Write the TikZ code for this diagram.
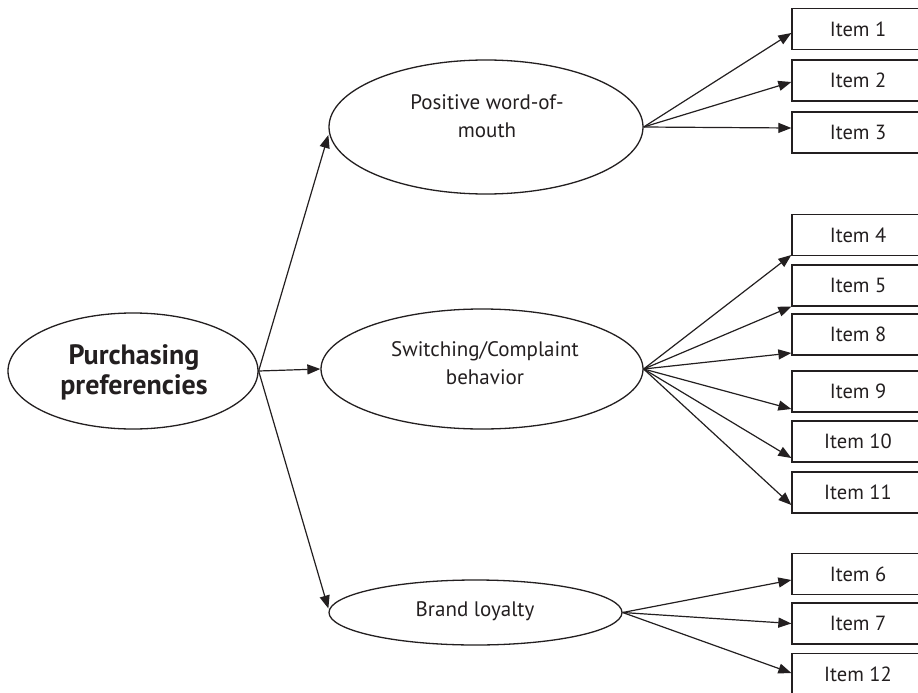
\documentclass[tikz,border=0pt]{standalone}
\usepackage{fontspec}
\setmainfont{PT Sans}
\usetikzlibrary{arrows.meta,shapes.geometric}
\definecolor{ink}{HTML}{231F20}
\begin{document}
\begin{tikzpicture}[x=1pt,y=-1pt,
  lat/.style={ellipse,draw=ink,line width=1.3pt,inner sep=0pt},
  lbl/.style={align=center,text=ink,inner sep=0pt,font=\fontsize{21}{27.5}\selectfont},
  itembox/.style={rectangle,draw=ink,line width=1.3pt,minimum width=132pt,minimum height=41pt,inner sep=0pt,text=ink,font=\fontsize{20.5}{24}\selectfont},
  link/.style={draw=ink,line width=1.2pt,-{Triangle[length=13pt,width=10pt]}}]
\useasboundingbox (0,0) rectangle (918,693);
\clip (0,0) rectangle (918,693);
\fill[white] (0,0) rectangle (918,693);

% latent ellipses
\node[lat,minimum width=250pt,minimum height=116pt] (pp) at (133,371) {};
\node[lbl,font=\bfseries\fontsize{28}{30}\selectfont] (ppT) at (134,372) {Purchasing\\preferencies};

\node[lat,minimum width=314pt,minimum height=134pt] (pos) at (486,127) {};
\node[lbl] (posT) at (487,116) {Positive word-of-\\mouth};

\node[lat,minimum width=322pt,minimum height=120pt] (sw) at (482,369) {};
\node[lbl] (swT) at (485,363) {Switching/Complaint\\behavior};

\node[lat,minimum width=293pt,minimum height=65pt] (bl) at (475.5,612.5) {};
\node[lbl] (blT) at (475,611) {Brand loyalty};

% item boxes
\node[itembox] (i1)  at (858,29)    {Item 1};
\node[itembox] (i2)  at (858,80.5)  {Item 2};
\node[itembox] (i3)  at (858,132.5) {Item 3};
\node[itembox] (i4)  at (858,235)   {Item 4};
\node[itembox] (i5)  at (858,285.5) {Item 5};
\node[itembox] (i8)  at (858,334.5) {Item 8};
\node[itembox] (i9)  at (858,391.5) {Item 9};
\node[itembox] (i10) at (858,441.5) {Item 10};
\node[itembox] (i11) at (858,492.5) {Item 11};
\node[itembox] (i6)  at (858,574)   {Item 6};
\node[itembox] (i7)  at (858,623.5) {Item 7};
\node[itembox] (i12) at (858,674)   {Item 12};

% connectors from the main construct
\draw[link] (pp.east) -- ([yshift=-8pt]pos.west);
\draw[link] (pp.east) -- (sw.west);
\draw[link] (pp.east) -- ([yshift=4pt]bl.west);

% positive word-of-mouth
\draw[link] (pos.east) -- ([yshift=-4pt]i1.west);
\draw[link] (pos.east) -- ([yshift=-1.5pt]i2.west);
\draw[link] (pos.east) -- ([yshift=4.5pt]i3.west);

% switching / complaint
\draw[link] (sw.east) -- ([yshift=-20pt]i4.west);
\draw[link] (sw.east) -- ([yshift=-21pt]i5.west);
\draw[link] (sw.east) -- ([yshift=-18.5pt]i8.west);
\draw[link] (sw.east) -- ([yshift=-17.5pt]i9.west);
\draw[link] (sw.east) -- ([yshift=-16.5pt]i10.west);
\draw[link] (sw.east) -- ([yshift=-12.5pt]i11.west);

% brand loyalty
\draw[link] (bl.east) -- ([yshift=-6pt]i6.west);
\draw[link] (bl.east) -- (i7.west);
\draw[link] (bl.east) -- ([yshift=1pt]i12.west);
\end{tikzpicture}
\end{document}
